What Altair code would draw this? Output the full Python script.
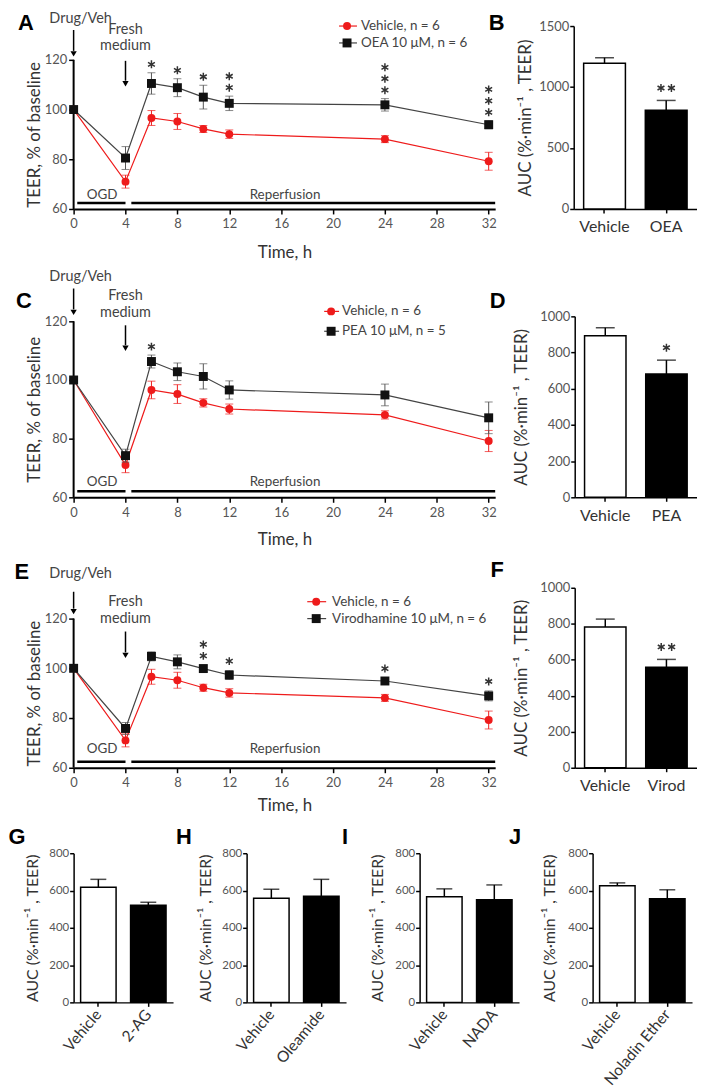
import altair as alt
import pandas as pd

FONT = "Lato"
LFONT = "Liberation Sans"
RED = "#ee1b1b"
INK = "#333333"
GREY = "#555555"
ASTER = "M0,-1L0,1M-0.866,-0.5L0.866,0.5M-0.866,0.5L0.866,-0.5"

# ------------------------------------------------------------------ data
times = [0, 4, 6, 8, 10, 12, 24, 32]
time_ticks = [0, 4, 8, 12, 16, 20, 24, 28, 32]
teer_ticks = [60, 80, 100, 120]

veh_label = "Vehicle, n = 6"
veh_mean = [100, 71.0, 96.6, 95.2, 92.2, 90.1, 88.1, 79.2]
veh_sem = [0, 2.6, 3.0, 3.2, 1.4, 1.7, 1.4, 3.6]

oea_label = "OEA 10 μM, n = 6"
oea_mean = [100, 80.5, 110.5, 108.8, 105.0, 102.5, 101.9, 93.9]
oea_sem = [0, 4.6, 4.3, 3.6, 4.8, 2.9, 2.5, 1.6]
oea_stars = [0, 0, 1, 1, 1, 2, 3, 3]

pea_label = "PEA 10 μM, n = 5"
pea_mean = [100, 74.2, 106.3, 102.8, 101.2, 96.6, 94.9, 87.1]
pea_sem = [0, 2.2, 2.2, 3.0, 4.3, 3.1, 3.7, 5.4]
pea_stars = [0, 0, 1, 0, 0, 0, 0, 0]

vir_label = "Virodhamine 10 μM, n = 6"
vir_mean = [100, 75.8, 104.8, 102.6, 99.9, 97.3, 94.9, 88.9]
vir_sem = [0, 2.4, 1.8, 2.8, 1.3, 1.8, 1.2, 2.0]
vir_stars = [0, 0, 0, 0, 2, 1, 1, 1]

teer_title = "TEER, % of baseline"
time_title = "Time, h"
auc_title = "AUC (%·min⁻¹ , TEER)"

b_cats = ["Vehicle", "OEA"]
b_mean = [1195, 810]
b_sem = [45, 80]
b_stars = [0, 2]

d_cats = ["Vehicle", "PEA"]
d_mean = [893, 681]
d_sem = [44, 77]
d_stars = [0, 1]

f_cats = ["Vehicle", "Virod"]
f_mean = [782, 558]
f_sem = [44, 44]
f_stars = [0, 2]

g_cats = ["Vehicle", "2-AG"]
g_mean = [617, 521]
g_sem = [43, 16]

h_cats = ["Vehicle", "Oleamide"]
h_mean = [558, 569]
h_sem = [49, 91]

i_cats = ["Vehicle", "NADA"]
i_mean = [567, 551]
i_sem = [42, 79]

j_cats = ["Vehicle", "Noladin Ether"]
j_mean = [625, 556]
j_sem = [16, 48]


# ------------------------------------------------------------------ helpers
def blank(t=""):
    return alt.Chart(pd.DataFrame({"t": [t]}))


def text_at(s, x, y, size, color="#444444", align="center", font=FONT,
            weight="normal", baseline="middle"):
    return blank(s).mark_text(font=font, fontSize=size, color=color, align=align,
                              baseline=baseline, fontWeight=weight).encode(
        x=x, y=alt.value(y), text="t:N")


def letter_at(s, x, y):
    return text_at(s, alt.value(x), y, 22, color="black", font=LFONT,
                   weight="bold", baseline="alphabetic")


def frame(x, y):
    # white 1px marker on the white margin: fixes the outer edge of a row's bounds
    return blank().mark_rule(color="white", strokeWidth=1).encode(
        x=alt.value(x + 0.5), x2=alt.value(x + 1.5), y=alt.value(y))


def arrow(t, y0, y1):
    shaft = blank().mark_rule(color="black", strokeWidth=1.5).encode(
        x=alt.datum(t), y=alt.value(y0), y2=alt.value(y1))
    head = blank().mark_point(shape="triangle-down", filled=True, size=40,
                              color="black", opacity=1).encode(
        x=alt.datum(t), y=alt.value(y1 + 3))
    return [shaft, head]


def star_layers(xfield, xs_list, his, counts, X, Yhi, dy, vertical):
    rows = [{xfield: x, "hi": h, "n": n, "k": k}
            for x, h, n in zip(xs_list, his, counts) for k in range(n)]
    if not rows:
        return []
    sdf = pd.DataFrame(rows)
    out = []
    for n in sorted(set(c for c in counts if c > 0)):
        for k in range(n):
            if vertical:
                xo, yo = 0, dy - 11.5 * k
            else:
                xo, yo = (k - (n - 1) / 2) * 10.5, dy
            out.append(alt.Chart(sdf).transform_filter(
                f"datum.n == {n} && datum.k == {k}").mark_point(
                shape=ASTER, filled=False, size=64, strokeWidth=1.5, color=INK, opacity=1,
                xOffset=xo, yOffset=yo).encode(x=X, y=Yhi))
    return out


def series_df(mean, sem):
    return pd.DataFrame({
        "time": times, "mean": mean, "sem": sem,
        "lo": [m - s for m, s in zip(mean, sem)],
        "hi": [m + s for m, s in zip(mean, sem)],
    })


def line_panel(drug_mean, drug_sem, drug_stars, drug_label, letter, H, ext, g, frames):
    W = 424
    top = 120 + ext * 60.0 / H
    xs = alt.Scale(domain=[0, 32.5], nice=False, zero=False)
    ys = alt.Scale(domain=[60, top], nice=False, zero=False)
    xax = alt.Axis(values=time_ticks, title=time_title, grid=False, labelFlush=False,
                   labelOverlap=False, labelFont=FONT, labelFontSize=13, labelColor=GREY,
                   labelPadding=4, tickSize=5, tickWidth=1.5, tickColor="black",
                   domainColor="black", domainWidth=2, titleFont=FONT, titleFontSize=17,
                   titleFontWeight="normal", titleColor=INK, titleX=W / 2, titleY=g["xt"],
                   titleAlign="center", titleBaseline="middle")
    yax = alt.Axis(values=teer_ticks, title=teer_title, grid=False, labelFlush=False,
                   labelOverlap=False, labelFont=FONT, labelFontSize=13, labelColor=GREY,
                   labelPadding=2, tickSize=5, tickWidth=1.5, tickColor="black",
                   domain=False, titleFont=FONT, titleFontSize=17,
                   titleFontWeight="normal", titleColor=INK, titleX=-39, titleY=ext + H / 2,
                   titleAngle=270, titleAlign="center", titleBaseline="middle")
    X = alt.X("time:Q", scale=xs, axis=xax)

    def Y(f):
        return alt.Y(f + ":Q", scale=ys, axis=yax)

    def series(df, pcolor, ecolor, lcolor, shape, size):
        b = alt.Chart(df)
        e = b.transform_filter("datum.sem > 0")
        return [
            e.mark_rule(color=ecolor, strokeWidth=1).encode(x=X, y=Y("lo"), y2="hi:Q"),
            e.mark_tick(orient="horizontal", size=8, thickness=1, color=ecolor).encode(x=X, y=Y("lo")),
            e.mark_tick(orient="horizontal", size=8, thickness=1, color=ecolor).encode(x=X, y=Y("hi")),
            b.mark_line(color=lcolor, strokeWidth=1.2).encode(x=X, y=Y("mean")),
            b.mark_point(shape=shape, filled=True, size=size, color=pcolor,
                         opacity=1).encode(x=X, y=Y("mean")),
        ]

    vdf = series_df(veh_mean, veh_sem)
    ddf = series_df(drug_mean, drug_sem)
    layers = [blank().mark_rule(color="black", strokeWidth=2).encode(
        x=alt.value(0), y=alt.datum(60), y2=alt.datum(120))]
    layers += series(vdf, RED, RED, RED, "circle", 64)
    layers += series(ddf, "#111111", "#555555", "#444444", "square", 81)
    layers += star_layers("time", times, [m + s for m, s in zip(drug_mean, drug_sem)],
                          drug_stars, X, Y("hi"), g["sdy"], True)

    # protocol annotations (y given relative to the 120 gridline)
    e = ext
    layers.append(text_at("Drug/Veh", alt.value(7), e + g["drug_y"], 14.5))
    layers += arrow(0, e + g["da"][0], e + g["da"][1])
    layers.append(text_at("Fresh", alt.datum(4), e + g["fresh_y"][0], 14.5))
    layers.append(text_at("medium", alt.datum(4), e + g["fresh_y"][1], 14.5))
    layers += arrow(4, e + g["fa"][0], e + g["fa"][1])
    layers.append(text_at("OGD", alt.datum(2.2), e + g["ogd_y"], 13.5))
    layers.append(text_at("Reperfusion", alt.datum(16.3), e + g["ogd_y"], 13.5))
    for t0, t1 in [(0.28, 4.0), (4.45, 32.5)]:
        layers.append(blank().mark_rule(color="black", strokeWidth=2.5).encode(
            x=alt.datum(t0), x2=alt.datum(t1), y=alt.value(e + H - 6)))

    # legend
    lg = g["lg"]
    for lab, pc, lc, shp, sz, yy in [(veh_label, RED, RED, "circle", 64, lg["y"][0]),
                                      (drug_label, "#111111", "#444444", "square", 81, lg["y"][1])]:
        layers.append(blank().mark_rule(color=lc, strokeWidth=1.2).encode(
            x=alt.value(lg["x0"]), x2=alt.value(lg["x1"]), y=alt.value(e + yy)))
        layers.append(blank().mark_point(shape=shp, filled=True, size=sz, color=pc,
                                         opacity=1).encode(x=alt.value(lg["xm"]),
                                                           y=alt.value(e + yy)))
        layers.append(text_at(lab, alt.value(lg["xt"]), e + yy, 13.5, align="left"))

    layers.append(letter_at(letter, g["letter"][0], e + g["letter"][1]))
    for fx, fy in frames:
        layers.append(frame(fx, fy))
    return alt.layer(*layers).properties(width=W, height=H + ext)


def bar_panel(cats, mean, sem, stars, letter, W, H, ymax, yticks, g, small=False, frames=()):
    hi = [m + s for m, s in zip(mean, sem)]
    df = pd.DataFrame({"cat": cats, "mean": mean, "hi": hi, "i": list(range(len(cats)))})
    xs = alt.Scale(domain=cats, paddingInner=g["pi"], paddingOuter=g["po"])
    ys = alt.Scale(domain=[0, ymax], nice=False, zero=True)
    xkw = dict(title=None, grid=False, labelFont=FONT, labelColor=INK, tickSize=4,
               tickWidth=1.5, tickColor="black", domainColor="black", domainWidth=1.5,
               labelOverlap=False, labelFlush=False)
    if small:
        xkw.update(labelFontSize=15.5, labelAngle=310, labelAlign="right",
                   labelBaseline="middle", labelPadding=5)
    else:
        xkw.update(labelFontSize=16, labelAngle=0, labelPadding=6)
    xax = alt.Axis(**xkw)
    yax = alt.Axis(values=yticks, format="d", title=auc_title, grid=False, labelFlush=False,
                   labelOverlap=False, labelFont=FONT,
                   labelFontSize=11.5 if small else 13, labelColor=GREY, labelPadding=1,
                   tickSize=4, tickWidth=1.5, tickColor="black", domainColor="black",
                   domainWidth=1.5, titleFont=FONT, titleFontSize=16 if small else 17,
                   titleFontWeight="normal", titleColor=INK, titleX=g["tx"], titleY=H / 2,
                   titleAngle=270, titleAlign="center", titleBaseline="middle")
    X = alt.X("cat:N", scale=xs, axis=xax, sort=cats)

    def Y(f):
        return alt.Y(f + ":Q", scale=ys, axis=yax)

    b = alt.Chart(df)
    capw = round((1 - g["pi"]) * W / (2 - g["pi"] + 2 * g["po"]) * 0.45)
    layers = [
        b.mark_rule(color="black", strokeWidth=1.5).encode(x=X, y=Y("mean"), y2="hi:Q"),
        b.mark_tick(orient="horizontal", size=capw, thickness=1.5, color="black").encode(
            x=X, y=Y("hi")),
        b.mark_bar(stroke="black", strokeWidth=1.5).encode(
            x=X, y=Y("mean"),
            fill=alt.condition("datum.i == 0", alt.value("white"), alt.value("black"))),
        letter_at(letter, g["letter"][0], g["letter"][1]),
    ]
    if stars:
        layers += star_layers("cat", cats, hi, stars, X, Y("hi"), -12.5, False)
    for fx, fy in frames:
        layers.append(frame(fx, fy))
    return alt.layer(*layers).properties(width=W, height=H)


# ------------------------------------------------------------------ panels
A = line_panel(oea_mean, oea_sem, oea_stars, oea_label, "A", 150, 34, dict(
    xt=44, letter=(-48, -30), drug_y=-41, da=(-30, -9), fresh_y=(-30, -14), fa=(1, 21),
    ogd_y=136, sdy=-8.5, lg=dict(x0=267, x1=285, xm=275, xt=289, y=(-34, -17))),
    frames=[(-60, -13.5), (-60, 238)])
C = line_panel(pea_mean, pea_sem, pea_stars, pea_label, "C", 177, 5, dict(
    xt=42, letter=(-50, -13), drug_y=-45, da=(-33, -12), fresh_y=(-25, -8), fa=(4, 24),
    ogd_y=162, sdy=-8.5, lg=dict(x0=252, x1=267, xm=259, xt=270, y=(-10, 10))),
    frames=[(-60, -52), (-60, 237)])
E = line_panel(vir_mean, vir_sem, vir_stars, vir_label, "E", 150, 31, dict(
    xt=38, letter=(-52, -40), drug_y=-45, da=(-27, -10), fresh_y=(-17, 0), fa=(13, 34),
    ogd_y=131, sdy=-9.5, lg=dict(x0=235, x1=254, xm=244, xt=260, y=(-17, 0))),
    frames=[(-60, -34), (-60, 231)])

big = dict(pi=0.3226, po=0.161)
B = bar_panel(b_cats, b_mean, b_sem, b_stars, "B", 124, 184, 1500, [0, 500, 1000, 1500],
              dict(big, tx=-48, letter=(-77.5, 4)))
D = bar_panel(d_cats, d_mean, d_sem, d_stars, "D", 123, 182, 1000,
              [0, 200, 400, 600, 800, 1000], dict(big, tx=-53, letter=(-77.5, -8)))
F = bar_panel(f_cats, f_mean, f_sem, f_stars, "F", 123, 181, 1000,
              [0, 200, 400, 600, 800, 1000], dict(big, tx=-53, letter=(-78, -11)))

sm = dict(pi=0.29, po=0.14)
ticks800 = [0, 200, 400, 600, 800]
G = bar_panel(g_cats, g_mean, g_sem, None, "G", 100, 150, 800, ticks800,
              dict(sm, tx=-41, letter=(-57, -9)), small=True, frames=[(-66, -34)])
Hh = bar_panel(h_cats, h_mean, h_sem, None, "H", 100, 150, 800, ticks800,
               dict(sm, tx=-41, letter=(-63, -9)), small=True)
I = bar_panel(i_cats, i_mean, i_sem, None, "I", 100, 150, 800, ticks800,
              dict(sm, tx=-42, letter=(-75, -9)), small=True)
J = bar_panel(j_cats, j_mean, j_sem, None, "J", 100, 150, 800, ticks800,
              dict(sm, tx=-43, letter=(-78, -9)), small=True)

row1 = alt.hconcat(A, B, spacing=79, bounds="flush")
row2 = alt.hconcat(C, D, spacing=80, bounds="flush")
row3 = alt.hconcat(E, F, spacing=80, bounds="flush")
row4 = alt.hconcat(G, Hh, I, J, spacing=74, bounds="flush")

PAD0 = {"left": 0, "top": 0, "right": 0, "bottom": 0}
chart = alt.vconcat(row1, row2, row3, row4, spacing=0).properties(
    padding=PAD0).configure(padding=PAD0).configure_view(strokeWidth=0)

chart.save("out.html", embed_options={"renderer": "svg", "actions": False})
